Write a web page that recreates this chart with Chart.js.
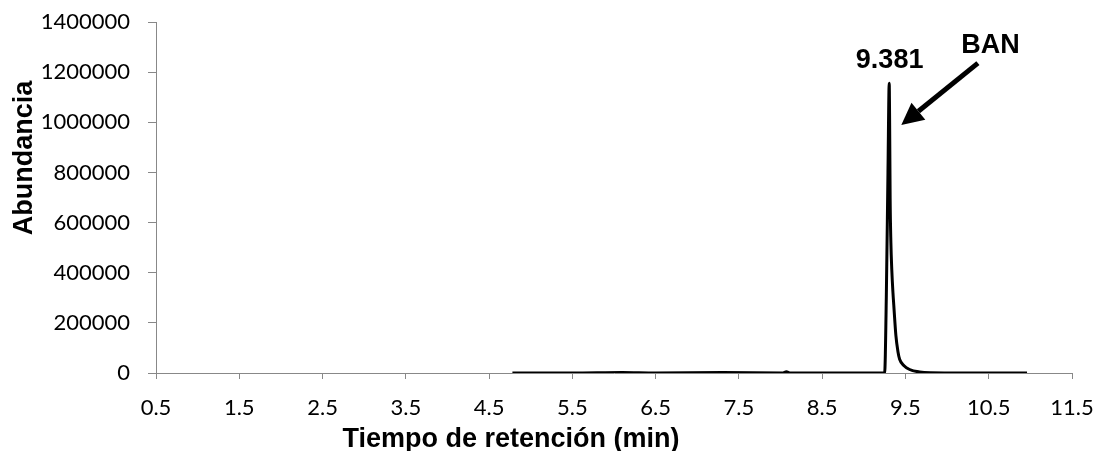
<!DOCTYPE html>
<html>
<head>
<meta charset="utf-8">
<script src="https://cdn.jsdelivr.net/npm/chart.js@4/dist/chart.umd.min.js"></script>
<style>
  html, body { margin:0; padding:0; background:#fff; }
  #wrap { width:1097px; height:451px; }
</style>
</head>
<body>
<div id="wrap"><canvas id="chart" width="1097" height="451"></canvas></div>
<script>
// chromatogram
const times = [4.78, 5.5, 6.1, 6.5, 7.3, 8.03, 8.07, 8.11, 9.0, 9.25, 9.27, 9.29, 9.305, 9.31, 9.316, 9.325, 9.336, 9.35, 9.36, 9.385, 9.41, 9.43, 9.48, 9.55, 9.67, 9.8, 10.2, 10.96];
const abund = [0, 0, 2000, 0, 1500, 0, 5000, 0, 0, 0, 300000, 800000, 1156000, 1000000, 700000, 520000, 411000, 320000, 270000, 150000, 85000, 55000, 30000, 14000, 4000, 1000, 0, 0];

const xTicks = [0.5, 1.5, 2.5, 3.5, 4.5, 5.5, 6.5, 7.5, 8.5, 9.5, 10.5, 11.5];
const yTicks = [0, 200000, 400000, 600000, 800000, 1000000, 1200000, 1400000];

const xTitle = 'Tiempo de retención (min)';
const yTitle = 'Abundancia';

const peakLabel = '9.381';
const peakAt = {x: 9.31, y: 1216000};
const nameLabel = 'BAN';
const nameAt = {x: 10.52, y: 1276000};
const arrowFrom = {x: 10.37, y: 1236000};
const arrowTo = {x: 9.45, y: 989000};

const tickFont = {family:'Lato, "Open Sans", sans-serif', size:22};

// axis titles (Excel put them off-centre) + annotations
const extras = {
  id:'extras',
  afterDraw(chart){
    const c = chart.ctx, xs = chart.scales.x, ys = chart.scales.y;
    c.save();
    c.fillStyle = '#000';
    c.font = 'bold 27px "Liberation Sans", Arial, sans-serif';
    c.textAlign = 'center';
    c.textBaseline = 'alphabetic';
    // x title
    c.fillText(xTitle, 511, 447);
    // y title
    c.save();
    c.translate(32, 158);
    c.rotate(-Math.PI/2);
    c.fillText(yTitle, 0, 0);
    c.restore();
    // labels
    c.fillText(peakLabel, xs.getPixelForValue(peakAt.x), ys.getPixelForValue(peakAt.y));
    c.fillText(nameLabel, xs.getPixelForValue(nameAt.x), ys.getPixelForValue(nameAt.y));
    // arrow
    const x1 = xs.getPixelForValue(arrowFrom.x), y1 = ys.getPixelForValue(arrowFrom.y);
    const x2 = xs.getPixelForValue(arrowTo.x), y2 = ys.getPixelForValue(arrowTo.y);
    const ang = Math.atan2(y2 - y1, x2 - x1);
    const head = 22, half = 11;
    const bx = x2 - head*Math.cos(ang), by = y2 - head*Math.sin(ang);
    c.strokeStyle = '#000';
    c.lineWidth = 5;
    c.beginPath(); c.moveTo(x1, y1); c.lineTo(bx, by); c.stroke();
    c.beginPath();
    c.moveTo(x2, y2);
    c.lineTo(bx + half*Math.sin(ang), by - half*Math.cos(ang));
    c.lineTo(bx - half*Math.sin(ang), by + half*Math.cos(ang));
    c.closePath(); c.fill();
    c.restore();
  }
};

const bg = {
  id:'bg',
  beforeDraw(chart){
    const c = chart.ctx;
    c.save(); c.fillStyle = '#fff'; c.fillRect(0, 0, chart.width, chart.height); c.restore();
  }
};

new Chart(document.getElementById('chart').getContext('2d'), {
  type:'line',
  data:{
    datasets:[{
      data: times.map((t, i) => ({x:t, y:abund[i]})),
      borderColor:'#000',
      borderWidth:3,
      pointRadius:0,
      cubicInterpolationMode:'monotone',
      borderJoinStyle:'round',
      fill:false
    }]
  },
  options:{
    responsive:false,
    animation:false,
    layout:{padding:{left:0, right:25, top:22, bottom:0}},
    plugins:{legend:{display:false}, tooltip:{enabled:false}},
    scales:{
      x:{
        type:'linear', min:0.5, max:11.5,
        afterBuildTicks: s => { s.ticks = xTicks.map(v => ({value:v})); },
        afterFit: s => { s.height = 78; s.paddingLeft = 0; s.paddingRight = 0; },
        grid:{drawOnChartArea:false, drawTicks:true, tickLength:6, color:'#888'},
        border:{color:'#888', width:1},
        ticks:{font:tickFont, color:'#000', padding:16, maxRotation:0, autoSkip:false, callback: v => v.toFixed(1)}
      },
      y:{
        type:'linear', min:0, max:1400000,
        afterBuildTicks: s => { s.ticks = yTicks.map(v => ({value:v})); },
        afterFit: s => { s.width = 156; s.paddingTop = 0; s.paddingBottom = 0; },
        grid:{drawOnChartArea:false, drawTicks:true, tickLength:8, color:'#888'},
        border:{color:'#888', width:1},
        ticks:{font:tickFont, color:'#000', padding:18, autoSkip:false, callback: v => String(v)}
      }
    }
  },
  plugins:[bg, extras]
});
</script>
</body>
</html>
